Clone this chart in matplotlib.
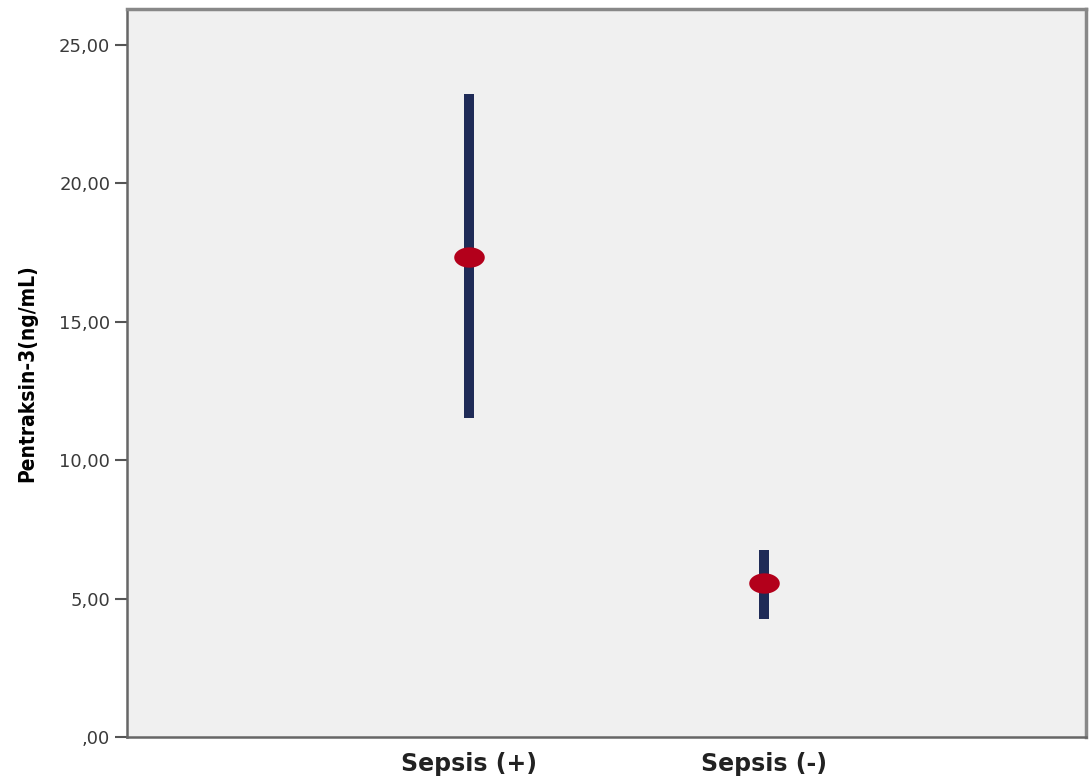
import matplotlib.pyplot as plt
import numpy as np
from matplotlib.path import Path

# Data (mean with error bar limits)
groups = ['Sepsis (+)', 'Sepsis (-)']
means = np.array([17.35, 5.55])
upper = np.array([23.22, 6.76])
lower = np.array([11.51, 4.28])

yticks = [0, 5, 10, 15, 20, 25]
ytick_labels = [',00', '5,00', '10,00', '15,00', '20,00', '25,00']

fig = plt.figure(figsize=(10.9, 7.81), dpi=100)
ax = fig.add_axes([0.1165, 0.0563, 0.8798, 0.9322])
ax.set_facecolor('#f0f0f0')

x = np.arange(len(groups))
ax.vlines(x, lower, upper, color='#1f2b57', linewidth=7.2, zorder=2)

# slightly wide oval marker like SPSS
t = np.linspace(0, 2 * np.pi, 60)
oval = Path(np.column_stack([1.5 * np.cos(t), np.sin(t)]), closed=True)
ax.plot(x, means, linestyle='none', marker=oval, markersize=22,
        color='#b3001b', markeredgewidth=0, zorder=3)

ax.set_xlim(-1.159, 2.09)
ax.set_ylim(0, 26.3)

ax.set_yticks(yticks)
ax.set_yticklabels(ytick_labels, fontsize=13, color='#3a3a3a')
ax.set_xticks(x)
ax.set_xticklabels(groups, fontsize=17, fontweight='bold', color='#222222')

ax.tick_params(axis='y', length=9, width=1.5, color='#555555', pad=3)
ax.tick_params(axis='x', length=0, pad=11)

for side in ['left', 'bottom']:
    ax.spines[side].set_color('#666666')
    ax.spines[side].set_linewidth(1.8)
for side in ['top', 'right']:
    ax.spines[side].set_color('#888888')
    ax.spines[side].set_linewidth(2.5)

ax.set_ylabel('Pentraksin-3(ng/mL)', fontsize=15, fontweight='bold',
              fontstretch='condensed', family='DejaVu Sans', labelpad=16)

plt.savefig('out.png', dpi=100)
